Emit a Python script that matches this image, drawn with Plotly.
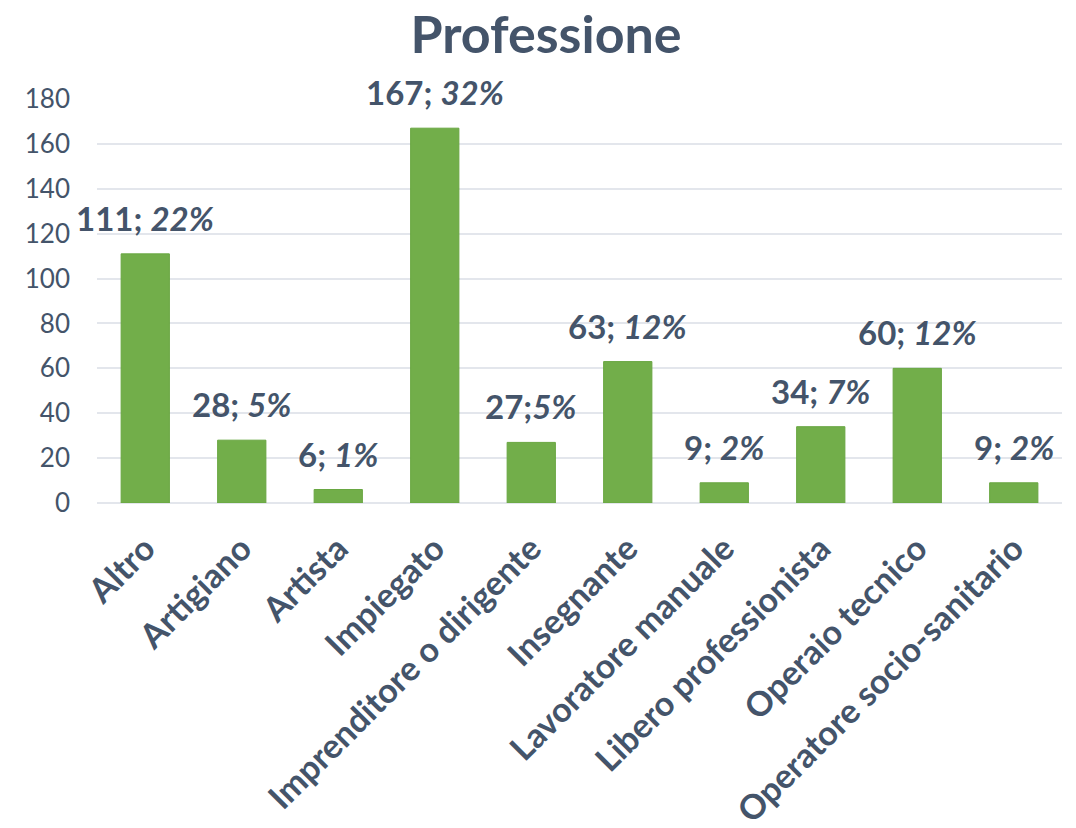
import plotly.graph_objects as go

categories = ["Altro", "Artigiano", "Artista", "Impiegato", "Imprenditore o dirigente",
              "Insegnante", "Lavoratore manuale", "Libero professionista",
              "Operaio tecnico", "Operatore socio-sanitario"]
values = [111, 28, 6, 167, 27, 63, 9, 34, 60, 9]
percents = ["22%", "5%", "1%", "32%", "5%", "12%", "2%", "7%", "12%", "2%"]
separators = ["; ", "; ", "; ", "; ", ";", "; ", "; ", "; ", "; ", "; "]

text_col = "#44546A"
font_family = "Lato, 'Open Sans', sans-serif"

labels = [f"<b>{v}{s}<i>{p}</i></b>" for v, s, p in zip(values, separators, percents)]

fig = go.Figure(go.Bar(
    x=categories, y=values,
    marker=dict(color="#72AE4A", line=dict(width=1, color="#68A640")),
    width=0.5,
))

for c, v, t in zip(categories, values, labels):
    fig.add_annotation(x=c, y=v, text=t, showarrow=False, yanchor="bottom", yshift=14,
                       font=dict(size=33, color=text_col, family=font_family))

fig.update_layout(
    width=1076, height=828,
    margin=dict(l=89, r=22, t=91, b=333, autoexpand=False),
    paper_bgcolor="white", plot_bgcolor="white",
    title=dict(text="<b>Professione</b>", x=0.5, xanchor="center", y=0.968, yanchor="middle",
               font=dict(size=52, color=text_col, family=font_family)),
    showlegend=False,
)
fig.update_yaxes(range=[0, 180], dtick=20, showgrid=True, gridcolor="#E3E6EC", gridwidth=2,
                 zeroline=True, zerolinecolor="#E3E6EC", zerolinewidth=2,
                 tickfont=dict(size=26, color=text_col, family=font_family), ticks="",
                 ticklabelstandoff=26, showline=False, automargin=False)
fig.update_xaxes(range=[-0.5, 9.5], tickangle=-45,
                 tickfont=dict(size=34, color=text_col, family=font_family),
                 tickprefix="<b>", ticksuffix="</b>", showline=False, ticks="",
                 ticklabelstandoff=18, automargin=False)

fig.write_html("out.html")
